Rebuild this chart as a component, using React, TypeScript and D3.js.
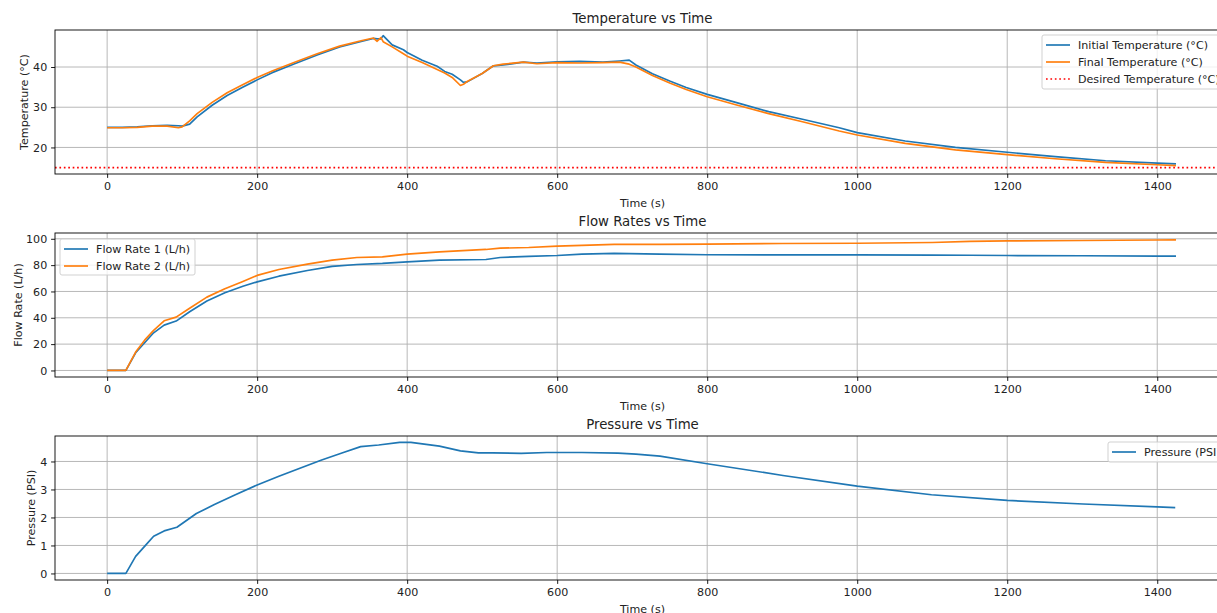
import React, { useEffect, useRef } from 'react';
import * as d3 from 'd3';

// Temperature panel
const tempTime = [0, 20, 40, 60, 80, 95, 100, 110, 120, 140, 160, 180, 200, 220, 250, 280, 310, 340, 355, 360, 365, 368, 380, 395, 400, 420, 440, 450, 460, 471, 475, 480, 500, 515, 528, 555, 573, 600, 630, 661, 683, 696, 705, 727, 750, 772, 800, 838, 882, 927, 976, 1000, 1064, 1131, 1200, 1264, 1331, 1400, 1425];
const initialTemp = [25.0, 25.0, 25.1, 25.4, 25.5, 25.4, 25.3, 25.8, 27.6, 30.5, 32.9, 34.9, 36.8, 38.6, 40.8, 43.0, 45.0, 46.4, 47.1, 47.0, 47.0, 47.8, 45.5, 44.3, 43.6, 41.7, 40.2, 38.9, 38.2, 36.8, 36.2, 36.3, 38.4, 40.3, 40.5, 41.2, 41.0, 41.3, 41.4, 41.2, 41.5, 41.7, 40.5, 38.3, 36.5, 34.9, 33.2, 31.2, 28.9, 27.0, 24.9, 23.7, 21.6, 20.0, 18.8, 17.7, 16.7, 16.1, 15.9];
const finalTemp = [24.9, 24.9, 25.0, 25.3, 25.3, 24.9, 25.1, 26.6, 28.4, 31.2, 33.6, 35.5, 37.4, 39.0, 41.2, 43.3, 45.2, 46.6, 47.2, 46.4, 47.3, 46.3, 45.0, 43.3, 42.7, 41.1, 39.4, 38.5, 37.4, 35.4, 35.7, 36.4, 38.4, 40.3, 40.7, 41.2, 40.8, 41.1, 41.0, 41.1, 41.2, 40.7, 40.0, 37.9, 36.0, 34.4, 32.6, 30.6, 28.4, 26.4, 24.1, 23.1, 21.0, 19.4, 18.2, 17.2, 16.3, 15.7, 15.5];
const desiredTemp = 15;
const tempTicks = [20, 30, 40];

// Flow panel
const flowTime = [0, 25, 38, 50, 62, 76, 92, 110, 133, 157, 181, 200, 229, 267, 300, 333, 367, 400, 443, 505, 524, 562, 600, 633, 676, 737, 800, 900, 1000, 1100, 1150, 1200, 1300, 1400, 1425];
const flowRate1 = [0, 0, 13.4, 21, 28.6, 34.4, 37.5, 44.6, 52.7, 59, 64, 67.3, 71.6, 75.9, 79, 80.5, 81.3, 82.5, 83.8, 84.3, 85.8, 86.6, 87.3, 88.4, 88.9, 88.3, 87.9, 87.8, 87.8, 87.6, 87.5, 87.3, 87.1, 86.9, 86.9];
const flowRate2 = [0, 0, 14, 23, 30.4, 37.7, 40.5, 47.3, 55.7, 62, 67.6, 72.2, 76.7, 80.8, 83.8, 85.8, 86.3, 88.4, 90.1, 91.9, 92.9, 93.4, 94.4, 95.0, 95.7, 95.7, 96.0, 96.4, 96.6, 97.2, 98.0, 98.4, 98.7, 99.1, 99.2];
const flowTicks = [0, 20, 40, 60, 80, 100];

// Pressure panel
const pressureTime = [0, 25, 38, 52, 62, 76, 93, 119, 143, 171, 200, 229, 257, 286, 314, 338, 362, 390, 405, 443, 471, 495, 514, 552, 586, 633, 681, 705, 737, 800, 901, 1000, 1099, 1200, 1301, 1400, 1424];
const pressure = [0, 0, 0.61, 1.03, 1.33, 1.52, 1.65, 2.14, 2.46, 2.81, 3.16, 3.47, 3.76, 4.05, 4.31, 4.53, 4.59, 4.68, 4.68, 4.55, 4.38, 4.31, 4.31, 4.29, 4.32, 4.32, 4.30, 4.26, 4.19, 3.92, 3.50, 3.12, 2.81, 2.61, 2.48, 2.38, 2.35];
const pressureTicks = [0, 1, 2, 3, 4];

const timeTicks = [0, 200, 400, 600, 800, 1000, 1200, 1400];

const W = 1217;
const H = 613;
const AX_LEFT = 55;
const AX_RIGHT = 1230;
const FONT = "'DejaVu Sans', sans-serif";
const FS = 11.1;
const TITLE_FS = 13.3;
const LW = 1.67;
const DOTS = '1.67,2.75';
const BLUE = '#1f77b4';
const ORANGE = '#ff7f0e';
const TEXT = '#222';

const App = () => {
  const svgRef = useRef(null);

  useEffect(() => {
    const svg = d3.select(svgRef.current);
    svg.selectAll('*').remove();

    const x = d3.scaleLinear().domain([-69.5, 1497]).range([AX_LEFT, AX_RIGHT]);

    const panels = [
      {
        id: 'temp', top: 30, bottom: 174, yDomain: [13.4, 49.2], yTicks: tempTicks,
        title: 'Temperature vs Time', ylabel: 'Temperature (°C)', ylabelX: 28,
        series: [
          { t: tempTime, v: initialTemp, color: BLUE, label: 'Initial Temperature (°C)' },
          { t: tempTime, v: finalTemp, color: ORANGE, label: 'Final Temperature (°C)' },
        ],
        hline: { value: desiredTemp, color: 'red', label: 'Desired Temperature (°C)' },
        legend: { x: 1042, y: 35, w: 185, h: 54 },
      },
      {
        id: 'flow', top: 233, bottom: 377, yDomain: [-4.97, 104.4], yTicks: flowTicks,
        title: 'Flow Rates vs Time', ylabel: 'Flow Rate (L/h)', ylabelX: 21.5,
        series: [
          { t: flowTime, v: flowRate1, color: BLUE, label: 'Flow Rate 1 (L/h)' },
          { t: flowTime, v: flowRate2, color: ORANGE, label: 'Flow Rate 2 (L/h)' },
        ],
        hline: null,
        legend: { x: 60, y: 239, w: 135, h: 36 },
      },
      {
        id: 'pres', top: 436, bottom: 580, yDomain: [-0.234, 4.91], yTicks: pressureTicks,
        title: 'Pressure vs Time', ylabel: 'Pressure (PSI)', ylabelX: 34.5,
        series: [
          { t: pressureTime, v: pressure, color: BLUE, label: 'Pressure (PSI)' },
        ],
        hline: null,
        legend: { x: 1108, y: 442, w: 118, h: 20 },
      },
    ];

    panels.forEach(p => {
      const y = d3.scaleLinear().domain(p.yDomain).range([p.bottom, p.top]);
      const g = svg.append('g');

      g.append('clipPath').attr('id', `clip-${p.id}`)
        .append('rect')
        .attr('x', AX_LEFT).attr('y', p.top)
        .attr('width', AX_RIGHT - AX_LEFT).attr('height', p.bottom - p.top);

      // grid
      g.selectAll('.vgrid').data(timeTicks).enter().append('line')
        .attr('x1', d => x(d)).attr('x2', d => x(d))
        .attr('y1', p.top).attr('y2', p.bottom)
        .attr('stroke', '#b0b0b0').attr('stroke-width', 0.9);
      g.selectAll('.hgrid').data(p.yTicks).enter().append('line')
        .attr('x1', AX_LEFT).attr('x2', AX_RIGHT)
        .attr('y1', d => y(d)).attr('y2', d => y(d))
        .attr('stroke', '#b0b0b0').attr('stroke-width', 0.9);

      const plot = g.append('g').attr('clip-path', `url(#clip-${p.id})`);

      p.series.forEach(s => {
        const line = d3.line<number>()
          .x((_, i) => x(s.t[i]))
          .y(d => y(d));
        plot.append('path')
          .datum(s.v)
          .attr('fill', 'none')
          .attr('stroke', s.color)
          .attr('stroke-width', LW)
          .attr('stroke-linejoin', 'round')
          .attr('d', line);
      });

      if (p.hline) {
        plot.append('line')
          .attr('x1', AX_LEFT).attr('x2', AX_RIGHT)
          .attr('y1', y(p.hline.value)).attr('y2', y(p.hline.value))
          .attr('stroke', p.hline.color)
          .attr('stroke-width', LW)
          .attr('stroke-dasharray', DOTS);
      }

      // spines
      g.append('rect')
        .attr('x', AX_LEFT).attr('y', p.top)
        .attr('width', AX_RIGHT - AX_LEFT).attr('height', p.bottom - p.top)
        .attr('fill', 'none').attr('stroke', '#000').attr('stroke-width', 0.9);

      // axes
      const xAxis = g.append('g')
        .attr('transform', `translate(0,${p.bottom})`)
        .call(d3.axisBottom(x).tickValues(timeTicks).tickSize(3.9).tickPadding(3.9).tickFormat(d3.format('d')));
      const yAxis = g.append('g')
        .attr('transform', `translate(${AX_LEFT},0)`)
        .call(d3.axisLeft(y).tickValues(p.yTicks).tickSize(3.9).tickPadding(3.9).tickFormat(d3.format('d')));
      [xAxis, yAxis].forEach(a => {
        a.select('.domain').remove();
        a.attr('font-family', FONT).attr('font-size', FS);
        a.selectAll('line').attr('stroke', '#000').attr('stroke-width', 0.9);
        a.selectAll('text').attr('fill', TEXT);
      });

      // title
      g.append('text')
        .attr('x', (AX_LEFT + AX_RIGHT) / 2)
        .attr('y', p.top - 6.7)
        .attr('text-anchor', 'middle')
        .attr('font-family', FONT).attr('font-size', TITLE_FS).attr('fill', TEXT)
        .text(p.title);

      // x label
      g.append('text')
        .attr('x', (AX_LEFT + AX_RIGHT) / 2)
        .attr('y', p.bottom + 33)
        .attr('text-anchor', 'middle')
        .attr('font-family', FONT).attr('font-size', FS).attr('fill', TEXT)
        .text('Time (s)');

      // y label
      g.append('text')
        .attr('transform', `translate(${p.ylabelX},${(p.top + p.bottom) / 2}) rotate(-90)`)
        .attr('text-anchor', 'middle')
        .attr('font-family', FONT).attr('font-size', FS).attr('fill', TEXT)
        .text(p.ylabel);

      // legend
      const entries = p.series.map(s => ({ color: s.color, label: s.label, dash: null as string | null }));
      if (p.hline) entries.push({ color: p.hline.color, label: p.hline.label, dash: DOTS });
      const lg = g.append('g');
      lg.append('rect')
        .attr('x', p.legend.x).attr('y', p.legend.y)
        .attr('width', p.legend.w).attr('height', p.legend.h)
        .attr('rx', 2)
        .attr('fill', 'white').attr('fill-opacity', 0.8)
        .attr('stroke', '#cccccc').attr('stroke-width', 0.9);
      entries.forEach((e, i) => {
        const cy = p.legend.y + 10 + i * 17;
        lg.append('line')
          .attr('x1', p.legend.x + 4).attr('x2', p.legend.x + 28)
          .attr('y1', cy).attr('y2', cy)
          .attr('stroke', e.color).attr('stroke-width', LW)
          .attr('stroke-dasharray', e.dash);
        lg.append('text')
          .attr('x', p.legend.x + 36).attr('y', cy)
          .attr('dy', '0.35em')
          .attr('font-family', FONT).attr('font-size', FS).attr('fill', TEXT)
          .text(e.label);
      });
    });
  }, []);

  return (
    <svg
      ref={svgRef}
      width={W}
      height={H}
      style={{ position: 'absolute', left: 0, top: 0, background: 'white' }}
    />
  );
};

export default App;
